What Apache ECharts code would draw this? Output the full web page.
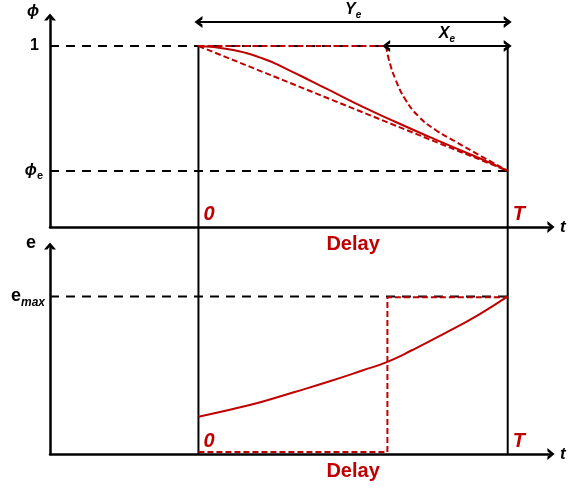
<!DOCTYPE html>
<html>
<head>
<meta charset="utf-8">
<script src="https://cdn.jsdelivr.net/npm/echarts@6/dist/echarts.min.js"></script>
<style>
  html, body { margin: 0; padding: 0; background: #fff; }
  #chart { width: 578px; height: 489px; }
</style>
</head>
<body>
<div id="chart"></div>
<script>
// values (t: 0 = start, 1 = T)
var tRange = [-0.48, 1.14];
var phiRange = [0, 1.16];
var eRange = [0, 1.32];

var PHI_E = 0.31;
var E_MAX = 1;
var T_X = 0.607;          // where X_e starts
var Y_ARROW = 1.133;      // level of the Y_e arrow

var phiTicks = [1, PHI_E];
var eTicks = [E_MAX];
var tTicks = [0, 1];

var phiSolidT = [0, 0.098, 0.206, 0.292, 0.368, 0.422, 0.530, 0.638, 0.745, 0.853, 0.929, 1];
var phiSolid  = [1, 0.982, 0.932, 0.867, 0.803, 0.757, 0.665, 0.580, 0.499, 0.420, 0.365, 0.31];

var phiLinT = [0, 1];
var phiLin  = [1, 0.31];

var phiFlatT = [0, T_X];
var phiFlat  = [1, 1];

var phiDropT = [0.607, 0.616, 0.638, 0.670, 0.713, 0.767, 0.832, 0.907, 1];
var phiDrop  = [1, 0.923, 0.812, 0.702, 0.609, 0.536, 0.471, 0.398, 0.31];

var eCurveT = [0, 0.098, 0.206, 0.314, 0.422, 0.530, 0.611, 0.692, 0.799, 0.907, 1];
var eCurve  = [0.237, 0.279, 0.332, 0.395, 0.460, 0.530, 0.585, 0.660, 0.768, 0.885, 1];

var eStepT = [0, 0.611, 0.611, 1];
var eStep  = [0.013, 0.013, 0.994, 0.994];

var RED = '#c00000';
var FONT = 'Liberation Sans, Arial, sans-serif';
var CHEV = 'path://M0,6L5,0L10,6L7.2,6L5,3.3L2.8,6Z';

function pts(ts, vs) {
    return ts.map(function(t, i) { return [t, vs[i]]; });
}

function line(g, data, color, type, width, extra) {
    var s = {
        type: 'line',
        xAxisIndex: g,
        yAxisIndex: g,
        data: data,
        symbol: 'none',
        silent: true,
        animation: false,
        lineStyle: { color: color, type: type, width: width }
    };
    for (var k in extra) s[k] = extra[k];
    return s;
}

var txt = { fontFamily: FONT, fontWeight: 'bold', color: '#000' };
function st(o) {
    var r = {};
    for (var k in txt) r[k] = txt[k];
    for (var k2 in o) r[k2] = o[k2];
    return r;
}

var myChart = echarts.init(document.getElementById('chart'));

function xAxisFor(g) {
    return {
        gridIndex: g,
        type: 'value',
        min: tRange[0],
        max: tRange[1],
        axisLine: {
            show: true, onZero: false,
            symbol: ['none', CHEV], symbolSize: [12, 8],
            lineStyle: { color: '#000', width: 2.5 }
        },
        axisTick: { show: false },
        splitLine: { show: false },
        axisLabel: {
            customValues: tTicks,
            inside: true,
            margin: 3,
            align: 'left',
            padding: [0, 0, 0, 5],
            formatter: function(v) { return v === 0 ? '0' : 'T'; },
            color: RED, fontSize: 20, fontStyle: 'italic', fontWeight: 'bold', fontFamily: FONT
        },
        name: 't',
        nameLocation: 'end',
        nameGap: 9,
        nameTextStyle: st({ fontSize: 17, fontStyle: 'italic' })
    };
}

var option = {
    backgroundColor: '#fff',
    animation: false,
    grid: [
        { left: 50, top: 17, width: 501, height: 210, outerBoundsMode: 'none' },
        { left: 50, top: 246, width: 501, height: 208, outerBoundsMode: 'none' }
    ],
    xAxis: [xAxisFor(0), xAxisFor(1)],
    yAxis: [{
        gridIndex: 0,
        type: 'value',
        min: phiRange[0],
        max: phiRange[1],
        axisLine: {
            show: true, onZero: false,
            symbol: ['none', CHEV], symbolSize: [12, 8],
            lineStyle: { color: '#000', width: 2.5 }
        },
        axisTick: { show: false },
        splitLine: { show: false },
        axisLabel: {
            customValues: phiTicks,
            margin: 7,
            formatter: function(v) { return v === 1 ? '{n|1}' : '{p|ϕ}{s|e}'; },
            rich: {
                n: st({ fontSize: 16, lineHeight: 22, verticalAlign: 'middle', padding: [0, 4, 0, 0] }),
                p: st({ fontSize: 16, fontStyle: 'italic', lineHeight: 22, verticalAlign: 'middle' }),
                s: st({ fontSize: 11, lineHeight: 22, verticalAlign: 'bottom' })
            }
        },
        name: 'ϕ',
        nameLocation: 'end',
        nameGap: 5,
        nameTextStyle: st({ fontSize: 16, fontStyle: 'italic', align: 'right', verticalAlign: 'middle', padding: [0, 11, 0, 0] })
    }, {
        gridIndex: 1,
        type: 'value',
        min: eRange[0],
        max: eRange[1],
        axisLine: {
            show: true, onZero: false,
            symbol: ['none', CHEV], symbolSize: [12, 8],
            lineStyle: { color: '#000', width: 2.5 }
        },
        axisTick: { show: false },
        splitLine: { show: false },
        axisLabel: {
            customValues: eTicks,
            margin: 5,
            formatter: function() { return '{e|e}{m|max}'; },
            rich: {
                e: st({ fontSize: 18, lineHeight: 24, verticalAlign: 'middle' }),
                m: st({ fontSize: 12, fontStyle: 'italic', lineHeight: 24, verticalAlign: 'bottom' })
            }
        },
        name: 'e',
        nameLocation: 'end',
        nameGap: 3,
        nameTextStyle: st({ fontSize: 18, align: 'right', verticalAlign: 'middle', padding: [0, 14, 0, 0] })
    }],
    series: [
        // black guides, top
        line(0, [[tRange[0], 1], [1, 1]], '#000', [9, 7], 2, {}),
        line(0, [[tRange[0], PHI_E], [1, PHI_E]], '#000', [9, 7], 2, {}),
        line(0, [[0, 1], [0, 0]], '#000', 'solid', 2, {}),
        line(0, [[1, 1], [1, 0]], '#000', 'solid', 2, {}),
        // black guides, bottom (verticals reach up to the top axis)
        line(1, [[tRange[0], E_MAX], [1, E_MAX]], '#000', [9, 7], 2, {}),
        line(1, [[0, 0], [0, 1.44]], '#000', 'solid', 2, { clip: false }),
        line(1, [[1, 0], [1, 1.44]], '#000', 'solid', 2, { clip: false }),

        // red curves, top
        line(0, pts(phiLinT, phiLin), RED, [6, 3], 2, {}),
        line(0, pts(phiFlatT, phiFlat), RED, [6, 3], 2, {}),
        line(0, pts(phiDropT, phiDrop), RED, [6, 3], 2, { smooth: 0.5 }),
        line(0, pts(phiSolidT, phiSolid), RED, 'solid', 2, { smooth: 0.5 }),

        // red curves, bottom
        line(1, pts(eStepT, eStep), RED, [6, 3], 2, {}),
        line(1, pts(eCurveT, eCurve), RED, 'solid', 2, { smooth: 0.5 }),

        // arrows Y_e and X_e
        line(0, [], '#000', 'solid', 2, {
            markLine: {
                silent: true, animation: false,
                symbol: [CHEV, CHEV], symbolSize: [12, 8],
                lineStyle: { color: '#000', width: 2, type: 'solid' },
                label: {
                    show: true, position: 'middle', distance: 2,
                    formatter: '{a|Y}{b|e}',
                    rich: {
                        a: st({ fontSize: 16, fontStyle: 'italic', lineHeight: 20, verticalAlign: 'middle' }),
                        b: st({ fontSize: 10, fontStyle: 'italic', lineHeight: 20, verticalAlign: 'bottom' })
                    }
                },
                data: [[{ coord: [0, Y_ARROW] }, { coord: [1, Y_ARROW] }]]
            }
        }),
        line(0, [], '#000', 'solid', 2, {
            markLine: {
                silent: true, animation: false,
                symbol: [CHEV, CHEV], symbolSize: [12, 8],
                lineStyle: { color: '#000', width: 2, type: 'solid' },
                label: {
                    show: true, position: 'middle', distance: 2,
                    formatter: '{a|X}{b|e}',
                    rich: {
                        a: st({ fontSize: 16, fontStyle: 'italic', lineHeight: 20, verticalAlign: 'middle' }),
                        b: st({ fontSize: 10, fontStyle: 'italic', lineHeight: 20, verticalAlign: 'bottom' })
                    }
                },
                data: [[{ coord: [T_X, 1] }, { coord: [1, 1] }]]
            }
        }),

        // "Delay" under each time axis, centred on [0, T]
        line(0, [], RED, 'solid', 0, {
            markPoint: {
                silent: true, animation: false, symbol: 'circle', symbolSize: 0,
                label: { show: true, position: 'inside', offset: [0, 17], formatter: 'Delay',
                         color: RED, fontSize: 20, fontWeight: 'bold', fontFamily: FONT },
                data: [{ coord: [0.5, phiRange[0]] }]
            }
        }),
        line(1, [], RED, 'solid', 0, {
            markPoint: {
                silent: true, animation: false, symbol: 'circle', symbolSize: 0,
                label: { show: true, position: 'inside', offset: [0, 17], formatter: 'Delay',
                         color: RED, fontSize: 20, fontWeight: 'bold', fontFamily: FONT },
                data: [{ coord: [0.5, eRange[0]] }]
            }
        })
    ]
};

myChart.setOption(option);
</script>
</body>
</html>
